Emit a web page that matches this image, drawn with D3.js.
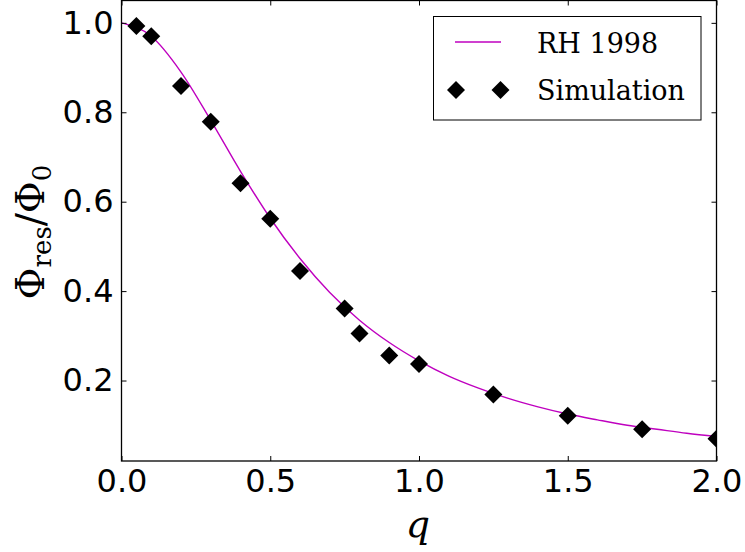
<!DOCTYPE html>
<html>
<head>
<meta charset="utf-8">
<script src="https://cdn.jsdelivr.net/npm/d3@7"></script>
<style>
  body { margin: 0; background: #fff; }
  svg { display: block; }
  .tick-label { font-family: "DejaVu Sans", sans-serif; font-size: 32px; fill: #000; }
  .serif { font-family: "DejaVu Serif", "Liberation Serif", serif; fill: #000; }
</style>
</head>
<body>
<svg id="chart" width="745" height="552"></svg>
<script>
// RH 1998 curve
const curveQ = [0, 0.1, 0.2, 0.3, 0.4, 0.5, 0.6, 0.7, 0.8, 0.9, 1.0,
  1.1, 1.2, 1.3, 1.4, 1.5, 1.6, 1.7, 1.8, 1.9, 2.0]
const curvePhi = [1.000, 0.970, 0.890, 0.782, 0.668, 0.563, 0.473, 0.397, 0.335, 0.285, 0.244,
  0.210, 0.183, 0.160, 0.141, 0.125, 0.112, 0.100, 0.091, 0.082, 0.075]

// simulation points
const simQ = [0.05, 0.1, 0.2, 0.3, 0.4, 0.5, 0.6, 0.75, 0.8, 0.9, 1.0, 1.25, 1.5, 1.75, 2.0]
const simPhi = [0.993, 0.970, 0.859, 0.779, 0.641, 0.562, 0.445, 0.361, 0.305, 0.256, 0.237,
  0.169, 0.121, 0.091, 0.070]

const xTicks = [0.0, 0.5, 1.0, 1.5, 2.0]
const yTicks = [0.2, 0.4, 0.6, 0.8, 1.0]
const legendLabels = ['RH 1998', 'Simulation']

const svg = d3.select('#chart')
const plot = { left: 121.5, right: 716.5, top: 0.5, bottom: 461 }
const tickLen = 5
const lineColor = '#bf00bf'

const x = d3.scaleLinear().domain([0, 2]).range([plot.left, plot.right])
const y = d3.scaleLinear().domain([0.02, 1.05]).range([plot.bottom, plot.top])

svg.append('clipPath')
  .attr('id', 'plot-clip')
  .append('rect')
  .attr('x', plot.left).attr('y', plot.top)
  .attr('width', plot.right - plot.left)
  .attr('height', plot.bottom - plot.top)

const diamond = 'M0,-9L9,0L0,9L-9,0Z'

const inner = svg.append('g').attr('clip-path', 'url(#plot-clip)')

const curveData = curveQ.map((q, i) => ({ q, v: curvePhi[i] }))
const simData = simQ.map((q, i) => ({ q, v: simPhi[i] }))

const line = d3.line()
  .curve(d3.curveMonotoneX)
  .x(d => x(d.q))
  .y(d => y(d.v))

inner.append('path')
  .datum(curveData)
  .attr('fill', 'none')
  .attr('stroke', lineColor)
  .attr('stroke-width', 1.4)
  .attr('d', line)

inner.selectAll('.sim')
  .data(simData)
  .enter().append('path')
  .attr('class', 'sim')
  .attr('transform', d => `translate(${x(d.q)},${y(d.v)})`)
  .attr('d', diamond)
  .attr('fill', '#000')

// axes: ticks inward on all four sides
const bottomAxis = d3.axisBottom(x).tickValues(xTicks).tickSize(-tickLen).tickPadding(10).tickFormat(d3.format('.1f'))
const topAxis = d3.axisTop(x).tickValues(xTicks).tickSize(-tickLen).tickFormat('')
const leftAxis = d3.axisLeft(y).tickValues(yTicks).tickSize(-tickLen).tickPadding(10).tickFormat(d3.format('.1f'))
const rightAxis = d3.axisRight(y).tickValues(yTicks).tickSize(-tickLen).tickFormat('')

const styleAxis = g => {
  g.select('.domain').remove()
  g.selectAll('line').attr('stroke', '#000').attr('stroke-width', 1)
  g.selectAll('text').attr('class', 'tick-label').attr('font-size', null).attr('font-family', null)
}

svg.append('g').attr('transform', `translate(0,${plot.bottom})`).call(bottomAxis).call(styleAxis)
  .selectAll('text').attr('dy', '0.71em').attr('y', 8)
svg.append('g').attr('transform', `translate(0,${plot.top})`).call(topAxis).call(styleAxis)
svg.append('g').attr('transform', `translate(${plot.left},0)`).call(leftAxis).call(styleAxis)
  .selectAll('text').attr('x', -8)
svg.append('g').attr('transform', `translate(${plot.right},0)`).call(rightAxis).call(styleAxis)

svg.append('rect')
  .attr('x', plot.left).attr('y', plot.top)
  .attr('width', plot.right - plot.left)
  .attr('height', plot.bottom - plot.top)
  .attr('fill', 'none')
  .attr('stroke', '#000')
  .attr('stroke-width', 1.3)

// axis titles
svg.append('text')
  .attr('class', 'serif')
  .attr('x', 418).attr('y', 537)
  .attr('text-anchor', 'middle')
  .attr('font-size', 38)
  .attr('font-style', 'italic')
  .text('q')

const yTitle = svg.append('text')
  .attr('class', 'serif')
  .attr('transform', 'translate(44,232) rotate(-90)')
  .attr('text-anchor', 'middle')
  .attr('font-size', 39)
yTitle.append('tspan').text('Φ')
yTitle.append('tspan').attr('font-size', 26).attr('dy', 7).text('res')
yTitle.append('tspan').attr('dy', -7).text('/Φ')
yTitle.append('tspan').attr('font-size', 26).attr('dy', 7).text('0')

// legend
const legend = svg.append('g')
legend.append('rect')
  .attr('x', 433.5).attr('y', 16.5)
  .attr('width', 267.5).attr('height', 103.5)
  .attr('fill', '#fff')
  .attr('stroke', '#000')
  .attr('stroke-width', 1)

legend.append('line')
  .attr('x1', 455).attr('x2', 501)
  .attr('y1', 42).attr('y2', 42)
  .attr('stroke', lineColor)
  .attr('stroke-width', 1.4)

legend.selectAll('.leg-marker')
  .data([456, 500.5])
  .enter().append('path')
  .attr('class', 'leg-marker')
  .attr('transform', d => `translate(${d},90)`)
  .attr('d', diamond)
  .attr('fill', '#000')

legend.selectAll('.leg-text')
  .data(legendLabels)
  .enter().append('text')
  .attr('class', 'serif leg-text')
  .attr('x', 537)
  .attr('y', (d, i) => 53 + i * 47)
  .attr('font-size', 27)
  .text(d => d)
</script>
</body>
</html>
